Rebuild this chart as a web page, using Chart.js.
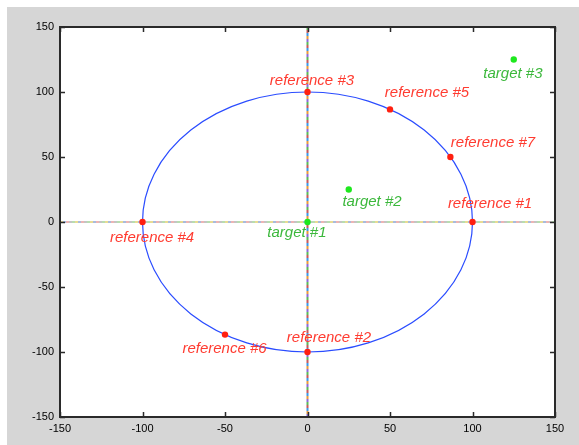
<!DOCTYPE html>
<html>
<head>
<meta charset="utf-8">
<script src="https://cdn.jsdelivr.net/npm/chart.js@4"></script>
<style>
  html, body { margin: 0; padding: 0; background: #fff; }
  #wrap { width: 579px; height: 445px; }
</style>
</head>
<body>
<div id="wrap"><canvas id="chart" width="579" height="445"></canvas></div>
<script>
// reference points (red)
const refNames = ["reference #1", "reference #2", "reference #3", "reference #4", "reference #5", "reference #6", "reference #7"];
const refX = [100, 0, 0, -100, 50, -50, 86.6];
const refY = [0, -100, 100, 0, 86.6, -86.6, 50];
const refLabelX = [110.6, 13.0, 2.7, -94.2, 72.4, -50.3, 112.4];
const refLabelY = [13.8, -89.2, 108.5, -12.3, 99.2, -97.7, 60.8];

// target points (green)
const targetNames = ["target #1", "target #2", "target #3"];
const targetX = [0, 25, 125];
const targetY = [0, 25, 125];
const targetLabelX = [-6.4, 39.1, 124.5];
const targetLabelY = [-8.5, 15.4, 113.8];

// circle through the references
const circleCenter = [0, 0];
const circleRadius = 100;

// crosshair through the origin
const crossSpan = [-150, 150];

const axisTicks = [-150, -100, -50, 0, 50, 100, 150];

const vColors = ["#8c6cd8", "#e89a3c", "#3c98e8", "#c85a5a", "#5cb85c"];
const hColors = ["#e8dc94", "#a8bcdc", "#ecb4b4", "#c4c4c4", "#b8dcb0"];

const toPoints = (xs, ys) => xs.map((x, i) => ({ x, y: ys[i] }));

const dashed = (pts, colors, width) =>
    colors.map((c, i) => ({
        type: "line",
        data: pts,
        borderColor: c,
        borderWidth: width,
        borderDash: [3, 3 * (colors.length - 1)],
        borderDashOffset: -3 * i,
        pointRadius: 0,
        showLine: true,
        fill: false,
        order: 5,
    }));

const hLine = toPoints(crossSpan, [0, 0]);
const vLine = toPoints([0, 0], crossSpan);

const backdrop = {
    id: "backdrop",
    beforeDraw(chart) {
        const { ctx, chartArea: a } = chart;
        ctx.save();
        ctx.fillStyle = "#ffffff";
        ctx.fillRect(0, 0, chart.width, chart.height);
        ctx.fillStyle = "#d6d6d6";
        ctx.fillRect(7, 7, chart.width - 7, chart.height - 7);
        ctx.fillStyle = "#ffffff";
        ctx.fillRect(a.left, a.top, a.right - a.left, a.bottom - a.top);
        ctx.restore();
    },
    beforeDatasetsDraw(chart) {
        const { ctx, scales: { x, y } } = chart;
        const cx = x.getPixelForValue(circleCenter[0]);
        const cy = y.getPixelForValue(circleCenter[1]);
        const rx = x.getPixelForValue(circleCenter[0] + circleRadius) - cx;
        const ry = cy - y.getPixelForValue(circleCenter[1] + circleRadius);
        ctx.save();
        ctx.strokeStyle = "#2a4cff";
        ctx.lineWidth = 1.2;
        ctx.beginPath();
        ctx.ellipse(cx, cy, rx, ry, 0, 0, Math.PI * 2);
        ctx.stroke();
        ctx.restore();
    },
    afterDatasetsDraw(chart) {
        const { ctx, scales: { x, y } } = chart;
        ctx.save();
        ctx.font = "italic 15px 'Liberation Sans', Arial, sans-serif";
        ctx.textAlign = "center";
        ctx.textBaseline = "middle";
        ctx.fillStyle = "#ff3b30";
        refNames.forEach((name, i) => {
            ctx.fillText(name, x.getPixelForValue(refLabelX[i]), y.getPixelForValue(refLabelY[i]));
        });
        ctx.fillStyle = "#3cb83c";
        targetNames.forEach((name, i) => {
            ctx.fillText(name, x.getPixelForValue(targetLabelX[i]), y.getPixelForValue(targetLabelY[i]));
        });
        ctx.restore();
    },
    afterDraw(chart) {
        const { ctx, chartArea: a, scales: { x, y } } = chart;
        ctx.save();
        ctx.strokeStyle = "#2a2a2a";
        ctx.lineWidth = 2;
        ctx.strokeRect(a.left, a.top, a.right - a.left, a.bottom - a.top);
        ctx.lineWidth = 1.5;
        ctx.beginPath();
        axisTicks.forEach((t) => {
            const px = Math.round(x.getPixelForValue(t)) + 0.5;
            ctx.moveTo(px, a.bottom);
            ctx.lineTo(px, a.bottom - 5);
            ctx.moveTo(px, a.top);
            ctx.lineTo(px, a.top + 5);
            const py = Math.round(y.getPixelForValue(t)) + 0.5;
            ctx.moveTo(a.left, py);
            ctx.lineTo(a.left + 5, py);
            ctx.moveTo(a.right, py);
            ctx.lineTo(a.right - 5, py);
        });
        ctx.stroke();
        ctx.restore();
    },
};

const tickFont = { family: "'Liberation Sans', Arial, sans-serif", size: 11 };

new Chart(document.getElementById("chart"), {
    type: "scatter",
    data: {
        datasets: [
            {
                data: toPoints(refX, refY),
                backgroundColor: "#ff2010",
                borderWidth: 0,
                pointRadius: 3.2,
                order: 1,
            },
            {
                data: toPoints(targetX, targetY),
                backgroundColor: "#1ee81e",
                borderWidth: 0,
                pointRadius: 3.2,
                order: 1,
            },
            ...dashed(vLine, vColors, 2),
            ...dashed(hLine, hColors, 2),
        ],
    },
    options: {
        responsive: false,
        animation: false,
        devicePixelRatio: 1,
        layout: { padding: { top: 27, right: 24, left: 0, bottom: 0 } },
        plugins: {
            legend: { display: false },
            tooltip: { enabled: false },
        },
        scales: {
            x: {
                type: "linear",
                min: -150,
                max: 150,
                grid: { display: false, drawTicks: false },
                border: { display: false },
                ticks: { stepSize: 50, padding: 5, color: "#000", font: tickFont },
                afterFit: (scale) => { scale.height = 28; },
            },
            y: {
                type: "linear",
                min: -150,
                max: 150,
                grid: { display: false, drawTicks: false },
                border: { display: false },
                ticks: { stepSize: 50, padding: 6, color: "#000", font: tickFont },
                afterFit: (scale) => { scale.width = 60; },
            },
        },
    },
    plugins: [backdrop],
});
</script>
</body>
</html>
